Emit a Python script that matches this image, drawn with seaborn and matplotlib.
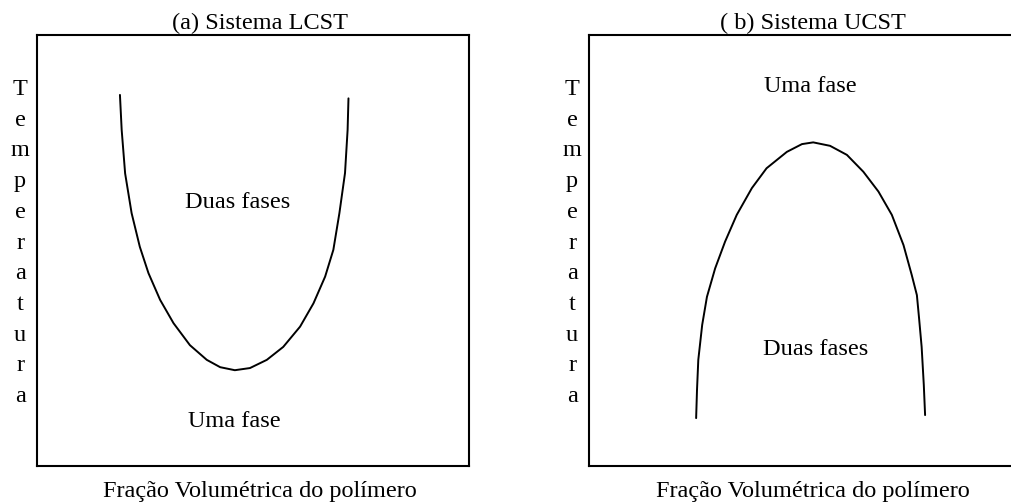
import pandas as pd
import matplotlib
matplotlib.use("Agg")
import matplotlib.pyplot as plt
import seaborn as sns

# curve points (x = volume fraction, y = temperature, box = 0..1)
lcst_x = [0.192, 0.196, 0.204, 0.219, 0.238, 0.258, 0.285, 0.316, 0.354, 0.393,
          0.424, 0.458, 0.493, 0.532, 0.570, 0.609, 0.640, 0.667, 0.686, 0.700,
          0.713, 0.719, 0.721]
lcst_y = [0.860, 0.779, 0.678, 0.586, 0.508, 0.447, 0.385, 0.331, 0.280, 0.246,
          0.229, 0.222, 0.227, 0.246, 0.276, 0.323, 0.377, 0.439, 0.501, 0.586,
          0.679, 0.779, 0.852]
ucst_x = [0.248, 0.250, 0.253, 0.262, 0.273, 0.292, 0.315, 0.342, 0.377, 0.411,
          0.458, 0.493, 0.519, 0.558, 0.597, 0.635, 0.670, 0.701, 0.728, 0.747,
          0.759, 0.764, 0.770, 0.775, 0.778]
ucst_y = [0.111, 0.176, 0.246, 0.327, 0.392, 0.458, 0.520, 0.582, 0.644, 0.690,
          0.728, 0.746, 0.750, 0.742, 0.721, 0.682, 0.636, 0.582, 0.512, 0.443,
          0.396, 0.343, 0.276, 0.188, 0.118]

titles = ["(a) Sistema LCST", "( b) Sistema UCST"]
upper_labels = ["Duas fases", "Uma fase"]
lower_labels = ["Uma fase", "Duas fases"]
xlabel = "Fração Volumétrica do polímero"
ylabel = "Temperatura"

sns.set_style("white")
plt.rcParams["font.family"] = ["Liberation Serif", "DejaVu Serif"]
plt.rcParams["text.color"] = "black"

fig = plt.figure(figsize=(10.12, 5.04), dpi=100)
ax_a = fig.add_axes([37 / 1012, 38 / 504, 432 / 1012, 431.5 / 504])
ax_b = fig.add_axes([589 / 1012, 38 / 504, 432 / 1012, 431.5 / 504])

lcst_df = pd.DataFrame({"x": lcst_x, "y": lcst_y})
ucst_df = pd.DataFrame({"x": ucst_x, "y": ucst_y})
sns.lineplot(data=lcst_df, x="x", y="y", sort=False, color="black", lw=1.4, ax=ax_a)
sns.lineplot(data=ucst_df, x="x", y="y", sort=False, color="black", lw=1.4, ax=ax_b)

fs = 17.5
title_x = [0.516, 0.519]
upper_pos = [(0.465, 0.598), (0.512, 0.867)]
lower_pos = [(0.456, 0.091), (0.525, 0.257)]
xlabel_x = [0.515, 0.519]

for i, ax in enumerate([ax_a, ax_b]):
    ax.set_xlim(0, 1)
    ax.set_ylim(0, 1)
    ax.set_xticks([])
    ax.set_yticks([])
    ax.set_xlabel("")
    ax.set_ylabel("")
    for sp in ax.spines.values():
        sp.set_visible(True)
        sp.set_linewidth(1.5)
        sp.set_color("black")
    ax.text(title_x[i], 1.013, titles[i], ha="center", va="baseline", fontsize=fs,
            color="black", transform=ax.transAxes, clip_on=False)
    ax.text(upper_pos[i][0], upper_pos[i][1], upper_labels[i], ha="center", va="baseline",
            fontsize=fs, color="black", transform=ax.transAxes)
    ax.text(lower_pos[i][0], lower_pos[i][1], lower_labels[i], ha="center", va="baseline",
            fontsize=fs, color="black", transform=ax.transAxes)
    ax.text(xlabel_x[i], -0.071, xlabel, ha="center", va="baseline", fontsize=fs,
            color="black", transform=ax.transAxes, clip_on=False)
    # stacked letters for the vertical axis label
    for k, ch in enumerate(ylabel):
        base_px = 95 + 30.7 * k
        ax.text(-0.039, (466 - base_px) / 431.5, ch, ha="center", va="baseline",
                fontsize=fs, color="black", transform=ax.transAxes, clip_on=False)

fig.savefig("out.png", dpi=100)
